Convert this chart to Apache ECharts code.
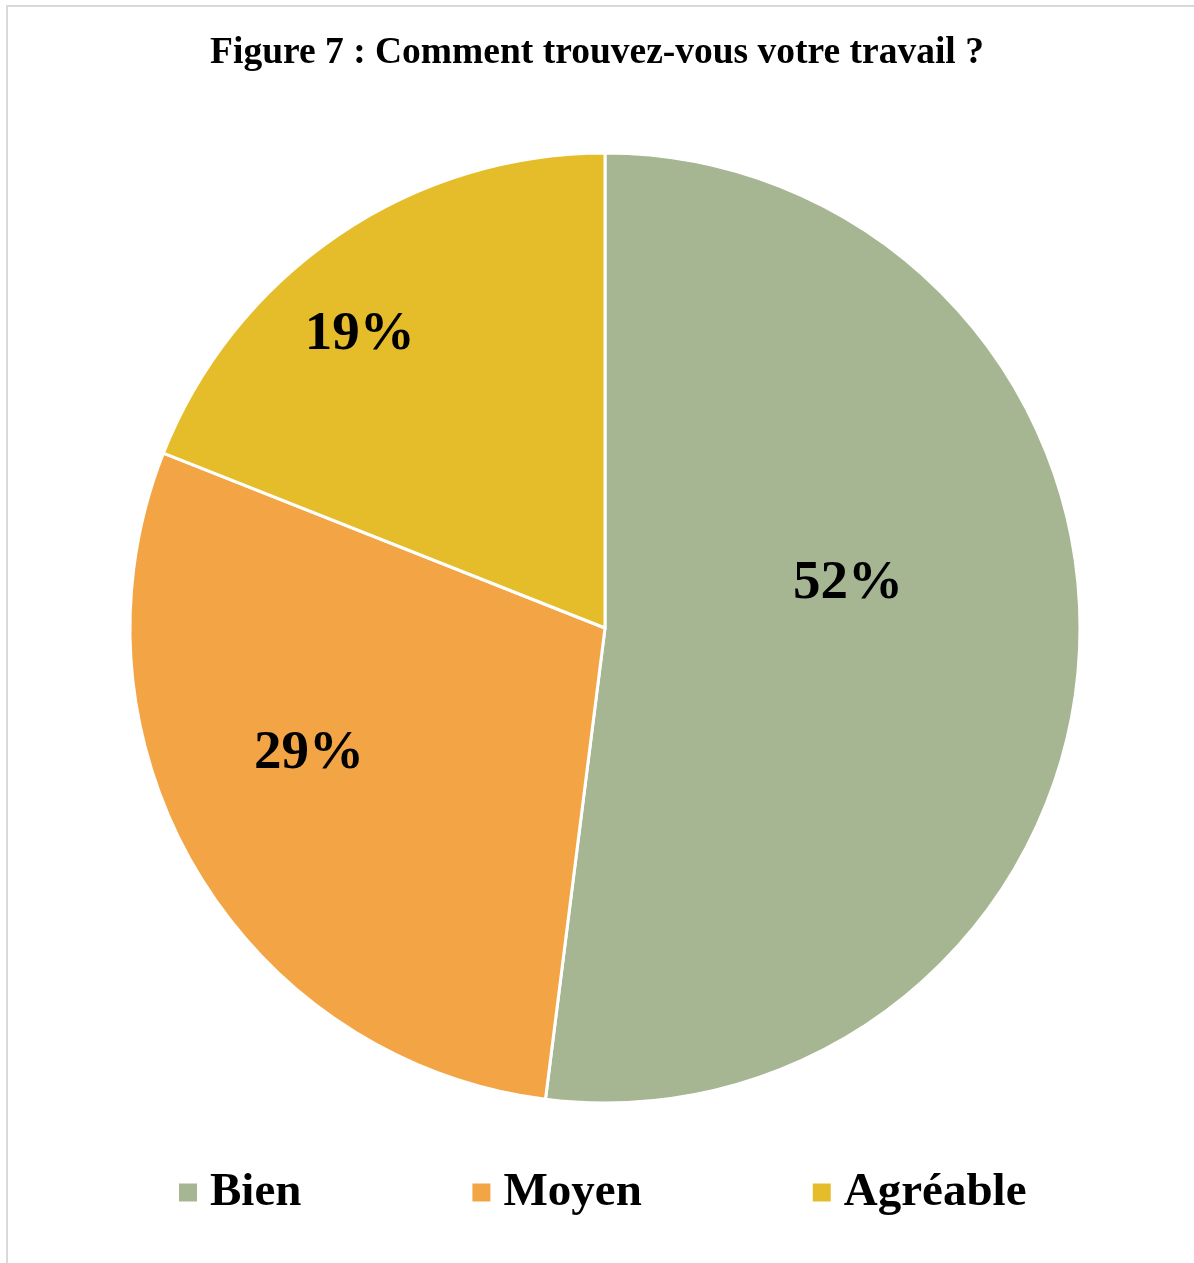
<!DOCTYPE html>
<html>
<head>
<meta charset="utf-8">
<script src="https://cdn.jsdelivr.net/npm/echarts@6/dist/echarts.min.js"></script>
<style>
  html, body { margin: 0; padding: 0; background: #fff; }
  #chart { width: 1194px; height: 1263px; }
</style>
</head>
<body>
<div id="chart"></div>
<script>
// Survey answers: "Comment trouvez-vous votre travail ?"
const categories = ['Bien', 'Moyen', 'Agréable'];
const shares = [52, 29, 19];
const colors = ['#A6B592', '#F3A546', '#E5BD2A'];

const serif = '"Liberation Serif", "Times New Roman", serif';

// label nudges away from the slice mid-radius point (px)
const labelNudge = [[3, -59], [-89, 3], [-110, -94]];

const chart = echarts.init(document.getElementById('chart'), null, { renderer: 'canvas' });

chart.setOption({
  backgroundColor: '#ffffff',
  animation: false,
  graphic: [{
    type: 'rect',
    shape: { x: 7, y: 6, width: 1400, height: 1400 },
    style: { fill: 'none', stroke: '#d9d9d9', lineWidth: 2 },
    silent: true
  }],
  title: {
    text: 'Figure 7 : Comment trouvez-vous votre travail ?',
    left: 'center',
    top: 29,
    textStyle: { fontFamily: serif, fontWeight: 'bold', fontSize: 37.5, color: '#000' }
  },
  legend: {
    data: categories,
    left: 172,
    top: 1164,
    icon: 'rect',
    itemWidth: 20,
    itemHeight: 20,
    itemGap: 169,
    textStyle: { fontFamily: serif, fontWeight: 'bold', fontSize: 47, color: '#000', padding: [0, 0, 0, 7] }
  },
  series: [{
    type: 'pie',
    center: [605, 628],
    radius: 475,
    startAngle: 90,
    clockwise: true,
    color: colors,
    itemStyle: { borderColor: '#ffffff', borderWidth: 3 },
    label: {
      show: true,
      position: 'inside',
      formatter: (p) => p.value + '%',
      fontFamily: serif,
      fontWeight: 'bold',
      fontSize: 55,
      color: '#000'
    },
    labelLine: { show: false },
    labelLayout: (params) => ({ dx: labelNudge[params.dataIndex][0], dy: labelNudge[params.dataIndex][1] }),
    data: categories.map((name, i) => ({ name: name, value: shares[i] }))
  }]
});
</script>
</body>
</html>
